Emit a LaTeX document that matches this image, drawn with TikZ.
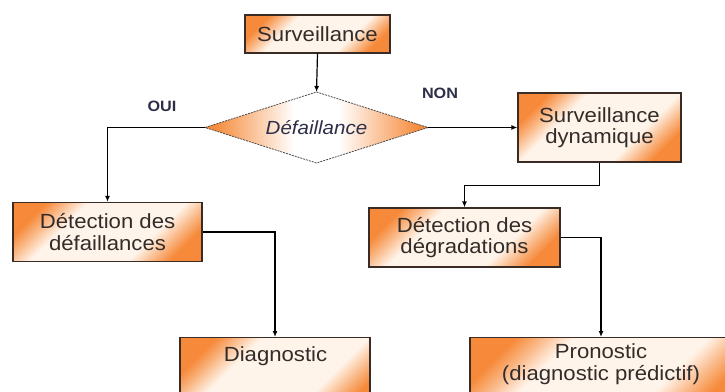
\documentclass[tikz,border=0pt]{standalone}
\usepackage{fontspec}
\setmainfont{Liberation Sans}[FakeStretch=1.08]
\usetikzlibrary{arrows.meta}
\definecolor{boxorange}{RGB}{246,138,58}
\definecolor{boxpale}{RGB}{255,244,234}
\definecolor{boxline}{RGB}{58,44,36}
\definecolor{boxtext}{RGB}{52,44,40}
\definecolor{tagtext}{RGB}{46,46,72}
% orange in two opposite corners, pale across the middle
\pgfdeclarehorizontalshading{boxfade}{100bp}{%
  color(0bp)=(boxorange); color(24bp)=(boxorange);
  color(29bp)=(boxorange!60!boxpale);
  color(36bp)=(boxpale); color(64bp)=(boxpale);
  color(71bp)=(boxorange!60!boxpale);
  color(76bp)=(boxorange); color(100bp)=(boxorange)}
\pgfdeclarehorizontalshading{diafade}{100bp}{%
  color(0bp)=(boxorange); color(27bp)=(boxorange);
  color(45bp)=(white); color(55bp)=(white);
  color(73bp)=(boxorange); color(100bp)=(boxorange)}
\tikzset{
  stepbox/.style={draw=boxline, line width=1.2pt, rectangle, inner sep=0pt,
    shading=boxfade, shading angle=-45, text=boxtext, align=center,
    font=\fontsize{20.5}{21.5}\selectfont},
  decision/.style={draw=gray!60!black, line width=0.8pt,
    dash pattern=on 2pt off 1pt, shading=diafade},
  decisiontext/.style={text=tagtext, font=\fontsize{19}{20}\selectfont\itshape},
  steptext/.style={text=boxtext, align=center,
    font=\fontsize{20.5}{21.5}\selectfont},
  tag/.style={text=tagtext, font=\fontsize{15}{16}\selectfont\bfseries},
  flow/.style={line width=1.2pt, -{Latex[length=6pt,width=5pt]}}
}
\begin{document}
\begin{tikzpicture}[x=1pt,y=-1pt]
\useasboundingbox (0,0) rectangle (725,391);
\clip (0,0) rectangle (725,391);

% process boxes
\node[stepbox, minimum width=145pt, minimum height=38pt] (surv) at (317.5,34) {Surveillance};
\node[stepbox, minimum width=163pt, minimum height=69pt] (dyn) at (599.5,127.5) {Surveillance\\dynamique};
\node[stepbox, minimum width=189pt, minimum height=59pt] (detdef) at (107.5,232) {Détection des\\défaillances};
\node[stepbox, minimum width=191pt, minimum height=59pt] (detdeg) at (464.5,237.5) {Détection des\\dégradations};
\node[stepbox, minimum width=190pt, minimum height=80pt, anchor=north] (diag) at (275,337) {};
\node[stepbox, minimum width=262pt, minimum height=80pt, anchor=north] (pron) at (601,337) {};
\node[steptext, anchor=center] (diagtxt) at (275.5,356) {Diagnostic};
\node[steptext, anchor=center] (prontxt) at (601,364) {Pronostic\\(diagnostic prédictif)};

% decision
\path[decision] (205,127.5) coordinate (dw) -- (316.5,92) coordinate (dn)
  -- (428,127.5) coordinate (de) -- (316.5,163) coordinate (ds) -- cycle;
\node[decisiontext] (dia) at (316.5,127.5) {Défaillance};

% branch labels
\node[tag] (oui) at (162,106) {OUI};
\node[tag] (non) at (440,93) {NON};

% connectors
\draw[flow] (surv.south) -- (dn);
\draw[flow] (dw) -| (detdef.north);
\draw[flow] (de) -- (dyn.west);
\draw[flow] (dyn.south) -- ++(0,23) -| (detdeg.north);
\draw[flow] (detdef.east) -| (diag.north);
\draw[flow] (detdeg.east) -| (pron.north);
\end{tikzpicture}
\end{document}
